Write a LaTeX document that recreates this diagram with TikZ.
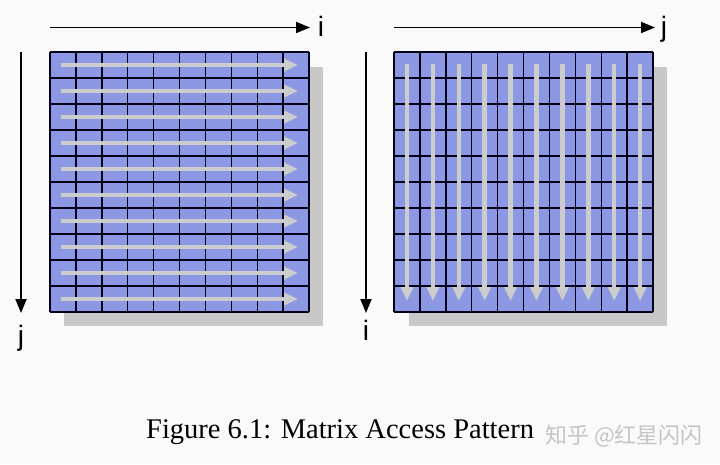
\documentclass[tikz,border=0pt]{standalone}
\usepackage{fontspec}
\setmainfont{Liberation Serif}
\setsansfont{Liberation Sans}
\newfontfamily\cjk{Noto Sans CJK SC}
\usetikzlibrary{arrows.meta}
\definecolor{cellblue}{RGB}{140,152,228}
\definecolor{shadowgray}{RGB}{200,200,200}
\definecolor{flowgray}{RGB}{204,204,204}
\definecolor{bggray}{RGB}{250,250,250}
\definecolor{markgray}{RGB}{196,196,196}
\tikzset{
  axisarrow/.style={draw=black, line width=1.8pt, -{Triangle[length=14pt,width=11pt]}},
  flowarrow/.style={draw=flowgray, line width=4.5pt, -{Triangle[length=14pt,width=12pt]}},
  gridline/.style={draw=black!90!blue, line width=1.4pt},
  axislabel/.style={font=\sffamily\fontsize{28}{32}\selectfont, inner sep=0pt, anchor=base},
  shadowbox/.style={fill=shadowgray, draw=none},
}
\begin{document}
\begin{tikzpicture}[x=1pt,y=-1pt]
\fill[bggray] (0,0) rectangle (720,464);
\useasboundingbox (0,0) rectangle (720,464);

% ---------- left matrix (row-wise access) ----------
\fill[shadowbox] (64,67) rectangle (323,326);
\fill[cellblue] (50,52) rectangle (309,312);
\foreach \k in {0,...,10} {
  \draw[gridline] ({50+25.9*\k},52) -- ({50+25.9*\k},312);
  \draw[gridline] (50,{52+26*\k}) -- (309,{52+26*\k});
}
\foreach \k in {0,...,9} {
  \coordinate (ls\k) at (61,{65+26*\k});
  \coordinate (le\k) at (298,{65+26*\k});
  \draw[flowarrow] (ls\k) -- (le\k);
}
\coordinate (lax0) at (50,27.5);
\coordinate (lax1) at (310,27.5);
\draw[axisarrow] (lax0) -- (lax1);
\node[axislabel] (li) at (321,36) {i};
\coordinate (lay0) at (21,52);
\coordinate (lay1) at (21,313);
\draw[axisarrow] (lay0) -- (lay1);
\node[axislabel] (lj) at (21,345) {j};

% ---------- right matrix (column-wise access) ----------
\fill[shadowbox] (409,67) rectangle (667,326);
\fill[cellblue] (394,52) rectangle (653,312);
\foreach \k in {0,...,10} {
  \draw[gridline] ({394+25.9*\k},52) -- ({394+25.9*\k},312);
  \draw[gridline] (394,{52+26*\k}) -- (653,{52+26*\k});
}
\foreach \k in {0,...,9} {
  \coordinate (rs\k) at ({407+25.9*\k},64);
  \coordinate (re\k) at ({407+25.9*\k},301);
  \draw[flowarrow] (rs\k) -- (re\k);
}
\coordinate (rax0) at (394,27.5);
\coordinate (rax1) at (655,27.5);
\draw[axisarrow] (rax0) -- (rax1);
\node[axislabel] (rj) at (664,36) {j};
\coordinate (ray0) at (366,52);
\coordinate (ray1) at (366,313);
\draw[axisarrow] (ray0) -- (ray1);
\node[axislabel] (ri) at (366,340) {i};

% ---------- caption ----------
\node[anchor=base west, inner sep=0pt, font=\fontsize{28.5}{34}\selectfont] (cap) at (146,438) {Figure 6.1: Matrix Access Pattern};
\node[anchor=base west, inner sep=0pt, text=markgray, font=\cjk\fontsize{22}{26}\selectfont] (wm) at (545,443) {知乎 @红星闪闪};
\end{tikzpicture}
\end{document}
